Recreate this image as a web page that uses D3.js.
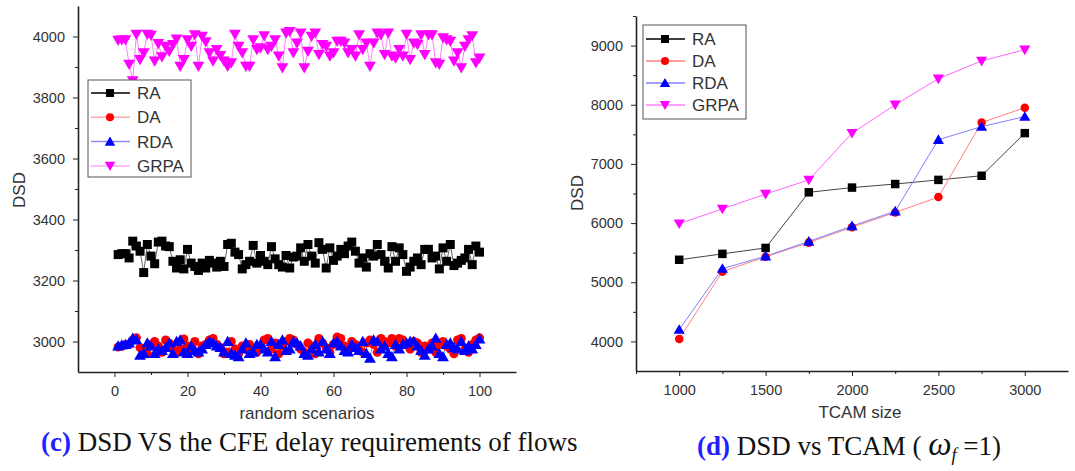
<meta charset="utf-8">
<script src="https://d3js.org/d3.v7.min.js"></script>
<style>
  body { margin: 0; background: #fff; }
  .tick text { font-family: Arial, "Liberation Sans", sans-serif; font-size: 14.5px; fill: #333; }
  .domain, .tick line { stroke: #222; }
  .ttl { font-family: Arial, "Liberation Sans", sans-serif; fill: #333; }
  .cap { font-family: "Times New Roman", "Liberation Serif", serif; font-size: 27px; fill: #111; }
</style>
<svg width="1075" height="471"></svg>
<script>
// ---- left panel (c): 100 random scenarios
var scen = d3.range(1, 101);
var raC = [3285,3288,3288,3274,3329,3313,3296,3226,3318,3280, 3255,3326,3329,3313,3311,3263,3241,3268,3238,3302,
           3257,3246,3233,3257,3241,3266,3257,3244,3263,3246, 3318,3322,3293,3285,3238,3252,3263,3315,3257,3282,
           3263,3252,3311,3271,3252,3244,3282,3241,3277,3280, 3307,3263,3318,3280,3257,3324,3302,3241,3307,3266,
           3280,3302,3288,3313,3326,3296,3257,3274,3244,3288, 3280,3318,3285,3263,3241,3311,3263,3307,3285,3230,
           3244,3263,3274,3252,3302,3302,3274,3280,3238,3307, 3263,3318,3249,3257,3266,3274,3302,3252,3313,3293];
var daC = [2982,2985,2990,2990,3005,3012,2980,2970,2960,2990, 3000,2985,2965,3005,2995,2975,2965,2975,3008,2985,
           2975,3000,2960,2985,2990,3005,3010,2990,2980,2960, 2965,3000,2975,2960,2985,2975,2990,2970,2965,2975,
           3005,3010,2975,2995,2960,2985,3000,3010,3005,2990, 2975,2965,2995,2985,2960,3010,2995,2980,2965,2990,
           3015,3010,2985,2970,3000,2990,2975,2965,2995,3005, 2990,2965,3010,3000,2995,3010,2985,3010,3005,2990,
           2975,3000,2995,2965,2985,2975,2995,2965,2990,3000, 2985,2975,2960,3005,3010,2975,2965,2990,3005,3012];
var rdaC = [2985,2988,2990,2995,3010,3005,2955,2960,2995,2985, 2960,2975,2970,2980,2995,2960,3000,3005,2965,2960,
            2985,2970,2965,2975,2990,3000,2995,2985,2980,2965, 3000,2960,2955,2950,2975,2995,2960,2965,2990,2990,
            2975,2965,3000,2950,2990,3005,2970,2975,3000,2995, 2985,2960,2955,2975,2990,2965,3000,2975,2960,2995,
            3000,2985,2970,2965,2990,2980,2970,3000,2960,2945, 3005,3000,2975,2985,2960,2950,2990,2975,2990,2995,
            3000,3000,2985,2970,2955,2975,2985,3010,2960,2950, 2990,2995,2980,2975,3000,2970,2985,2975,2990,3008];
var grpaC = [3988,3990,3990,3909,3855,4008,3925,3947,4008,4004, 3920,3977,3934,3968,3952,3974,3992,3903,3925,3990,
             3968,4006,3903,4001,3983,3947,3920,3958,3938,3920, 3903,3914,4008,3968,3947,3903,3903,3990,3958,3963,
             4003,3958,3968,3990,3936,3898,4012,4017,3947,3979, 4012,3898,3952,4001,4012,3941,3974,3968,3936,3947,
             3985,3985,3979,3947,3958,3936,4006,3958,3979,3903, 3979,4012,4006,3941,4012,3936,3930,3958,3936,4008,
             3925,3979,3974,4006,3941,4006,4006,3914,3909,3996, 3990,3985,3920,3947,3898,3968,3990,4003,3914,3930];

// ---- right panel (d): TCAM size
var tcam = [1000,1250,1500,1750,2000,2250,2500,2750,3000];
var raD   = [5380,5480,5580,6520,6600,6660,6730,6800,7520];
var daD   = [4040,5180,5430,5670,5930,6180,6440,7700,7950];
var rdaD  = [4200,5230,5440,5690,5950,6200,7410,7630,7800];
var grpaD = [5990,6240,6490,6730,7520,8000,8440,8740,8930];

var names = ["RA","DA","RDA","GRPA"];
var markColor = ["#000","#ff0000","#0000ff","#ff00ff"];
var lineColC = ["#666","#ff9a9a","#8a8aff","#ff7fff"];
var lineColD = ["#444","#ff8080","#8080ff","#ff66ff"];
var shapes = [d3.symbolSquare, d3.symbolCircle, d3.symbolTriangle, d3.symbolTriangle];

var svg = d3.select("svg");

function marker(g, k, x, y, size) {
  var s = [size, size * 0.8, size * 0.75, size * 0.75][k];
  var p = g.append("path")
    .attr("d", d3.symbol().type(shapes[k]).size(s))
    .attr("fill", markColor[k]);
  var tr = "translate(" + x + "," + y + ")";
  if (k == 3) tr += " rotate(180)";
  if (k >= 2) tr += " translate(0,1)";
  p.attr("transform", tr);
}

function panel(opt) {
  var x = d3.scaleLinear().domain(opt.xd).range(opt.xr);
  var y = d3.scaleLinear().domain(opt.yd).range(opt.yr);
  var g = svg.append("g");
  var fmt = d3.format("d");

  g.append("g").attr("transform", "translate(0," + opt.yr[0] + ")")
    .call(d3.axisBottom(x).tickValues(opt.xminor).tickSize(3).tickFormat(""))
    .call(function(a) { a.select(".domain").remove(); });
  g.append("g").attr("transform", "translate(" + opt.xr[0] + ",0)")
    .call(d3.axisLeft(y).tickValues(opt.yminor).tickSize(3).tickFormat(""))
    .call(function(a) { a.select(".domain").remove(); });
  g.append("g").attr("transform", "translate(0," + opt.yr[0] + ")")
    .call(d3.axisBottom(x).tickValues(opt.xticks).tickFormat(fmt).tickSize(5).tickSizeOuter(0).tickPadding(9))
    .call(function(a) { a.select(".domain").attr("stroke-width", 1.6); });
  g.append("g").attr("transform", "translate(" + opt.xr[0] + ",0)")
    .call(d3.axisLeft(y).tickValues(opt.yticks).tickFormat(fmt).tickSize(5).tickSizeOuter(0).tickPadding(8))
    .call(function(a) { a.select(".domain").attr("stroke-width", 1.6); });

  opt.series.forEach(function(vals, k) {
    var pts = opt.xs.map(function(d, i) { return [x(d), y(vals[i])]; });
    g.append("path").datum(pts)
      .attr("d", d3.line())
      .attr("fill", "none")
      .attr("stroke", opt.lineCol[k])
      .attr("stroke-width", opt.lw);
  });
  opt.series.forEach(function(vals, k) {
    opt.xs.forEach(function(d, i) { marker(g, k, x(d), y(vals[i]), opt.msize); });
  });

  g.append("text").attr("class", "ttl")
    .attr("x", (opt.xr[0] + opt.xr[1]) / 2 + opt.xtOff).attr("y", opt.yr[0] + 47)
    .attr("text-anchor", "middle").attr("font-size", 17).text(opt.xtitle);
  g.append("text").attr("class", "ttl")
    .attr("transform", "translate(" + opt.ytX + "," + opt.ytY + ") rotate(-90)")
    .attr("text-anchor", "middle").attr("font-size", 17).text("DSD");

  // legend
  var L = opt.leg;
  g.append("rect").attr("x", L.x).attr("y", L.y).attr("width", L.w).attr("height", L.h)
    .attr("fill", "#fff").attr("stroke", "#555").attr("stroke-width", 1);
  names.forEach(function(n, k) {
    var yy = L.y + L.top + k * L.step;
    g.append("line").attr("x1", L.x + 3).attr("x2", L.x + 42).attr("y1", yy).attr("y2", yy)
      .attr("stroke", opt.legLine[k]).attr("stroke-width", 1.5);
    marker(g, k, L.x + 22, yy, 64);
    g.append("text").attr("class", "ttl").attr("x", L.x + 49).attr("y", yy + 6)
      .attr("font-size", 17).attr("fill", "#111").text(n);
  });
}

panel({
  xd: [-10, 110], xr: [78, 516], yd: [2900, 4100], yr: [372, 6],
  xticks: [0,20,40,60,80,100], xminor: [10,30,50,70,90],
  yticks: [3000,3200,3400,3600,3800,4000], yminor: [3100,3300,3500,3700,3900],
  xs: scen, series: [raC, daC, rdaC, grpaC], lineCol: lineColC, lw: 1, msize: 81,
  xtitle: "random scenarios", xtOff: 10, ytX: 25, ytY: 190,
  leg: {x: 88, y: 80, w: 103, h: 97, top: 13, step: 24.3},
  legLine: ["#000","#ffaaaa","#8a8aff","#ffaaff"]
});

panel({
  xd: [750, 3250], xr: [636, 1068], yd: [3500, 9500], yr: [371, 16],
  xticks: [1000,1500,2000,2500,3000], xminor: [750,1250,1750,2250,2750],
  yticks: [4000,5000,6000,7000,8000,9000], yminor: [4500,5500,6500,7500,8500,9500],
  xs: tcam, series: [raD, daD, rdaD, grpaD], lineCol: lineColD, lw: 1, msize: 72,
  xtitle: "TCAM size", xtOff: 8, ytX: 583, ytY: 193,
  leg: {x: 643, y: 25, w: 103, h: 94, top: 14, step: 22},
  legLine: ["#000","#ff8080","#8080ff","#ff80ff"]
});

// captions
var c1 = svg.append("text").attr("class", "cap").attr("x", 41).attr("y", 451);
c1.append("tspan").attr("font-weight", "bold").attr("fill", "#1f1fff").text("(c)");
c1.append("tspan").text(" DSD VS the CFE delay requirements of flows");

var c2 = svg.append("text").attr("class", "cap").attr("x", 697).attr("y", 455);
c2.append("tspan").attr("font-weight", "bold").attr("fill", "#1f1fff").text("(d)");
c2.append("tspan").text(" DSD vs TCAM ( ");
c2.append("tspan").attr("font-style", "italic").attr("font-size", 33).text("ω");
c2.append("tspan").attr("font-style", "italic").attr("font-size", 18).attr("dy", 6).text("f");
c2.append("tspan").attr("dy", -6).text("  =1)");
</script>
